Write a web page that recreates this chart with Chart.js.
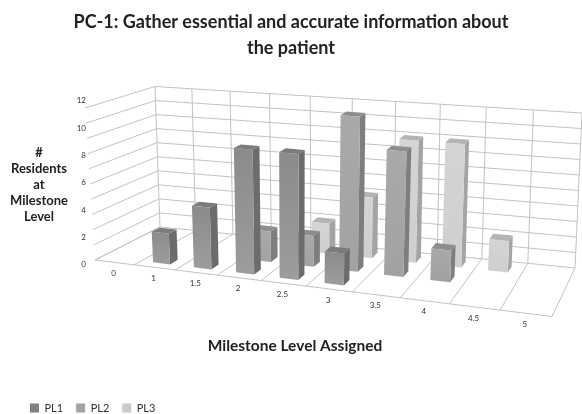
<!DOCTYPE html>
<html>
<head>
<meta charset="utf-8">
<script src="https://cdn.jsdelivr.net/npm/chart.js@4"></script>
<style>
    html, body { margin: 0; padding: 0; background: #fff; }
    canvas { display: block; }
</style>
</head>
<body>
<canvas id="milestoneChart" width="582" height="414"></canvas>
<script>
/* values */
var categories = ["0", "1", "1.5", "2", "2.5", "3", "3.5", "4", "4.5", "5"];
var pl1 = [null, 2.4, 4.8, 9.6, 9.6, 2.4, null, null, null, null];
var pl2 = [null, null, null, 2.4, 2.4, 12, 9.6, 2.4, null, null];
var pl3 = [null, null, null, null, 2.4, 4.8, 9.6, 9.6, 2.4, null];
var yTicks = [0, 2, 4, 6, 8, 10, 12];

var fontName = "Lato, 'Open Sans', sans-serif";
var gridColor = "#c2c2c4";
var wallDivisions = 10;
var barDepth = 0.13;
var rowDepth = [0.18, 0.51, 0.84];

var shades = [
    { legend: "#7f7f82", top: "#7b7b7d", side: "#6c6c6e", faceA: "#8b8b8d", faceB: "#9c9c9e" },
    { legend: "#a5a5a7", top: "#8e8e90", side: "#7e7e80", faceA: "#a9a9ab", faceB: "#a2a2a4" },
    { legend: "#c9c9cb", top: "#b4b4b6", side: "#a4a4a6", faceA: "#d4d4d6", faceB: "#cfcfd1" }
];

/* corners of the 3d box on the page: floor and the plane at the top of the value axis */
var floorQuad = [[95, 260], [552, 316.5], [575, 268], [160, 227]];
var topQuad = [[85, 108], [566, 148.5], [582, 113], [155, 86.5]];

function bilinear(q, u, v) {
    var out = [];
    for (var k = 0; k < 2; k++) {
        var front = q[0][k] + (q[1][k] - q[0][k]) * u;
        var back = q[3][k] + (q[2][k] - q[3][k]) * u;
        out.push(front + (back - front) * v);
    }
    return out;
}

// u along the categories, v into the depth, w up the value axis, all 0..1
function project(u, v, w) {
    var s = 0.848 * u + 0.152 * u * u; // categories get wider towards the viewer
    var f = bilinear(floorQuad, s, v), t = bilinear(topQuad, s, v);
    return [f[0] + (t[0] - f[0]) * w, f[1] + (t[1] - f[1]) * w];
}

function line(ctx, a, b) {
    ctx.beginPath();
    ctx.moveTo(a[0], a[1]);
    ctx.lineTo(b[0], b[1]);
    ctx.stroke();
}

function poly(ctx, pts, fill) {
    ctx.beginPath();
    ctx.moveTo(pts[0][0], pts[0][1]);
    for (var i = 1; i < pts.length; i++) {
        ctx.lineTo(pts[i][0], pts[i][1]);
    }
    ctx.closePath();
    ctx.fillStyle = fill;
    ctx.fill();
}

function drawWalls(chart) {
    var ctx = chart.ctx;
    var n = chart.scales.x.ticks.length;
    var i;
    ctx.strokeStyle = gridColor;
    ctx.lineWidth = 1;
    for (i = 0; i <= wallDivisions; i++) {
        var w = i / wallDivisions;
        line(ctx, project(0, 0, w), project(0, 1, w));
        line(ctx, project(0, 1, w), project(1, 1, w));
    }
    for (i = 0; i <= n; i++) {
        line(ctx, project(i / n, 1, 0), project(i / n, 1, 1));
        line(ctx, project(i / n, 0, 0), project(i / n, 1, 0));
    }
    line(ctx, project(0, 0, 0), project(1, 0, 0));
}

function drawBar(chart, el, row) {
    var ctx = chart.ctx;
    var area = chart.chartArea;
    var p = el.getProps(["x", "y", "base", "width"], true);
    var u = (p.x - area.left) / area.width;
    var hw = p.width / area.width / 2;
    var w = (p.base - p.y) / area.height;
    var v0 = rowDepth[row] - barDepth / 2, v1 = rowDepth[row] + barDepth / 2;
    var s = shades[row];

    poly(ctx, [project(u + hw, v0, 0), project(u + hw, v1, 0), project(u + hw, v1, w), project(u + hw, v0, w)], s.side);
    poly(ctx, [project(u - hw, v0, w), project(u + hw, v0, w), project(u + hw, v1, w), project(u - hw, v1, w)], s.top);

    var a = project(u - hw, v0, w), b = project(u - hw, v0, 0);
    var grad = ctx.createLinearGradient(0, a[1], 0, b[1]);
    grad.addColorStop(0, s.faceA);
    grad.addColorStop(1, s.faceB);
    poly(ctx, [project(u - hw, v0, 0), project(u + hw, v0, 0), project(u + hw, v0, w), project(u - hw, v0, w)], grad);
}

var box3d = {
    id: "box3d",
    beforeDatasetsDraw: function (chart) {
        drawWalls(chart);
        // back row first, right to left so nearer bars cover the farther ones
        for (var row = chart.data.datasets.length - 1; row >= 0; row--) {
            var bars = chart.getDatasetMeta(row).data;
            var values = chart.data.datasets[row].data;
            for (var i = bars.length - 1; i >= 0; i--) {
                if (values[i] !== null) {
                    drawBar(chart, bars[i], row);
                }
            }
        }
        return false;
    },
    afterDraw: function (chart) {
        var ctx = chart.ctx;
        var xScale = chart.scales.x;
        var n = xScale.ticks.length;
        ctx.save();
        ctx.textAlign = "center";
        ctx.textBaseline = "middle";

        ctx.fillStyle = "#333";
        ctx.font = "8px " + fontName;
        for (var i = 0; i < n; i++) {
            var pt = project((i + 0.5) / n, 0, 0);
            ctx.fillText(xScale.getLabelForValue(i), pt[0] - 1, pt[1] + 11);
        }

        ctx.fillStyle = "#222";
        ctx.font = "bold 15.5px " + fontName;
        ctx.fillText("Milestone Level Assigned", 295, 346);

        ctx.font = "bold 13px " + fontName;
        var side = ["#", "Residents", "at", "Milestone", "Level"];
        for (var j = 0; j < side.length; j++) {
            ctx.fillText(side[j], 39, 152.5 + j * 16.2);
        }
        ctx.restore();
    }
};

new Chart(document.getElementById("milestoneChart"), {
    type: "bar",
    data: {
        labels: categories,
        datasets: [
            { label: "PL1", data: pl1, backgroundColor: shades[0].legend },
            { label: "PL2", data: pl2, backgroundColor: shades[1].legend },
            { label: "PL3", data: pl3, backgroundColor: shades[2].legend }
        ]
    },
    options: {
        responsive: false,
        animation: false,
        grouped: false,
        barPercentage: 0.42,
        categoryPercentage: 1,
        layout: { padding: { left: 17, right: 17, bottom: -9.5 } },
        plugins: {
            tooltip: { enabled: false },
            title: {
                display: true,
                text: ["PC-1: Gather essential and accurate information about", "the patient"],
                color: "#222",
                font: { family: fontName, size: 18, weight: "bold", lineHeight: 1.44 },
                padding: { top: 9, bottom: 40 }
            },
            legend: {
                position: "bottom",
                align: "start",
                labels: {
                    boxWidth: 9,
                    boxHeight: 9,
                    padding: 13,
                    color: "#333",
                    font: { family: fontName, size: 11 }
                }
            }
        },
        scales: {
            x: {
                grid: { display: false },
                border: { display: false },
                ticks: { display: false },
                afterFit: function (scale) { scale.height = 125; }
            },
            y: {
                min: 0,
                max: 12,
                grid: { display: false, drawTicks: false },
                border: { display: false },
                afterFit: function (scale) { scale.width = 79; },
                afterBuildTicks: function (scale) {
                    scale.ticks = yTicks.map(function (v) { return { value: v }; });
                },
                ticks: {
                    padding: 10,
                    color: "#333",
                    font: { family: fontName, size: 8 }
                }
            }
        }
    },
    plugins: [box3d]
});
</script>
</body>
</html>
